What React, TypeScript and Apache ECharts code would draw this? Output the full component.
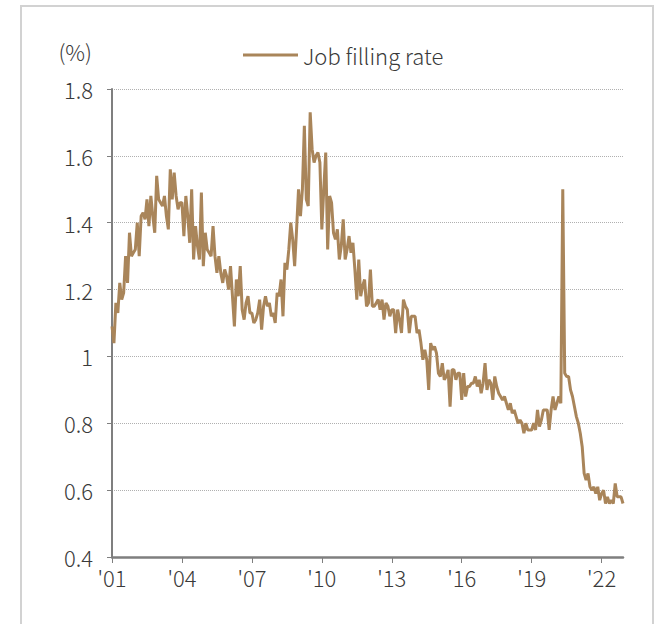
import React, { useEffect, useRef } from "react";
import * as echarts from "echarts";

const startYear = 2001;
const v2001 = [1.09, 1.04, 1.16, 1.13, 1.22, 1.17, 1.19, 1.3, 1.22, 1.37, 1.3, 1.31];
const v2002 = [1.32, 1.4, 1.3, 1.42, 1.43, 1.41, 1.47, 1.39, 1.48, 1.42, 1.37, 1.54];
const v2003 = [1.47, 1.46, 1.45, 1.48, 1.42, 1.38, 1.56, 1.47, 1.55, 1.48, 1.44, 1.46];
const v2004 = [1.46, 1.36, 1.48, 1.42, 1.34, 1.5, 1.29, 1.39, 1.33, 1.29, 1.49, 1.27];
const v2005 = [1.37, 1.32, 1.31, 1.3, 1.39, 1.3, 1.25, 1.3, 1.25, 1.22, 1.26, 1.24];
const v2006 = [1.2, 1.27, 1.18, 1.09, 1.23, 1.18, 1.27, 1.14, 1.11, 1.16, 1.18, 1.13];
const v2007 = [1.13, 1.1, 1.11, 1.13, 1.17, 1.08, 1.15, 1.18, 1.15, 1.16, 1.12, 1.13];
const v2008 = [1.1, 1.19, 1.18, 1.23, 1.12, 1.28, 1.26, 1.32, 1.4, 1.35, 1.27, 1.38];
const v2009 = [1.5, 1.42, 1.5, 1.69, 1.47, 1.45, 1.73, 1.62, 1.58, 1.6, 1.61, 1.58];
const v2010 = [1.38, 1.5, 1.61, 1.32, 1.48, 1.46, 1.37, 1.35, 1.38, 1.29, 1.33, 1.41];
const v2011 = [1.29, 1.32, 1.36, 1.31, 1.34, 1.26, 1.17, 1.29, 1.18, 1.21, 1.23, 1.15];
const v2012 = [1.16, 1.26, 1.15, 1.15, 1.16, 1.17, 1.14, 1.17, 1.11, 1.16, 1.15, 1.12];
const v2013 = [1.14, 1.14, 1.07, 1.14, 1.11, 1.07, 1.17, 1.15, 1.14, 1.07, 1.12, 1.12];
const v2014 = [1.12, 1.07, 1.08, 1.04, 0.99, 1.02, 0.99, 0.9, 1.04, 1.02, 1.03, 1.01];
const v2015 = [0.95, 0.94, 0.98, 0.93, 0.94, 0.96, 0.85, 0.96, 0.96, 0.93, 0.95, 0.95];
const v2016 = [0.87, 0.95, 0.88, 0.91, 0.91, 0.92, 0.92, 0.94, 0.91, 0.93, 0.89, 0.92];
const v2017 = [0.98, 0.9, 0.93, 0.92, 0.87, 0.94, 0.91, 0.89, 0.88, 0.87, 0.88, 0.86];
const v2018 = [0.84, 0.86, 0.83, 0.84, 0.82, 0.8, 0.81, 0.8, 0.77, 0.8, 0.78, 0.78];
const v2019 = [0.78, 0.8, 0.78, 0.84, 0.79, 0.81, 0.84, 0.84, 0.84, 0.78, 0.84, 0.88];
const v2020 = [0.84, 0.86, 0.88, 0.86, 1.5, 0.95, 0.94, 0.94, 0.9, 0.88, 0.85, 0.82];
const v2021 = [0.8, 0.77, 0.73, 0.65, 0.63, 0.65, 0.61, 0.6, 0.61, 0.59, 0.61, 0.57];
const v2022 = [0.59, 0.6, 0.56, 0.58, 0.56, 0.57, 0.56, 0.62, 0.58, 0.58, 0.58, 0.56];

const yearly = [
  v2001, v2002, v2003, v2004, v2005, v2006, v2007, v2008, v2009, v2010, v2011,
  v2012, v2013, v2014, v2015, v2016, v2017, v2018, v2019, v2020, v2021, v2022,
];
const tickYears = ["'01", "'04", "'07", "'10", "'13", "'16", "'19", "'22"];
const seriesName = "Job filling rate";
const unitLabel = "(%)";

const FONT = "'Noto Sans CJK KR', 'Noto Sans', sans-serif";
const TEXT = "#3a3a3a";
const LINE = "#a9855a";

export default function App() {
  const ref = useRef<HTMLDivElement>(null);
  useEffect(() => {
    if (!ref.current) return;
    const chart = echarts.init(ref.current, null, { renderer: "svg" });
    const categories: string[] = [];
    const values: number[] = [];
    yearly.forEach((arr, yi) => {
      arr.forEach((v, mi) => {
        categories.push(`${startYear + yi}-${String(mi + 1).padStart(2, "0")}`);
        values.push(v);
      });
    });
    const showIdx = (idx: number) => idx % 36 === 0;
    chart.setOption({
      animation: false,
      graphic: [
        {
          type: "rect",
          shape: { x: 21, y: 6, width: 632, height: 640 },
          style: { fill: "none", stroke: "#d2d2d2", lineWidth: 2 },
          silent: true,
        },
        {
          type: "text",
          x: 92,
          y: 51,
          style: {
            text: unitLabel,
            font: `300 22px ${FONT}`,
            fill: TEXT,
            align: "right",
            verticalAlign: "middle",
          },
        },
      ],
      legend: {
        left: 238,
        top: 39,
        icon: "rect",
        itemWidth: 55,
        itemHeight: 3,
        textStyle: { fontFamily: FONT, fontSize: 22, fontWeight: 300, color: TEXT },
        data: [seriesName],
      },
      grid: { left: 112, right: 34, top: 89, bottom: 67 },
      xAxis: {
        type: "category",
        data: categories,
        boundaryGap: false,
        axisLine: { lineStyle: { color: "#7f7f7f", width: 2.5 } },
        axisTick: { show: true, interval: showIdx, length: 6, lineStyle: { color: "#7f7f7f", width: 1 } },
        axisLabel: {
          interval: showIdx,
          formatter: (_v: string, idx: number) => tickYears[Math.round(idx / 36)] ?? "",
          fontFamily: FONT,
          fontSize: 22,
          fontWeight: 300,
          color: TEXT,
          margin: 9,
        },
        splitLine: { show: false },
      },
      yAxis: {
        type: "value",
        min: 0.4,
        max: 1.8,
        interval: 0.2,
        axisLine: { show: true, lineStyle: { color: "#7f7f7f", width: 2 } },
        axisTick: { show: true, length: 5, lineStyle: { color: "#7f7f7f", width: 1 } },
        axisLabel: {
          formatter: (v: number) => String(Number(v.toFixed(1))),
          fontFamily: FONT,
          fontSize: 22,
          fontWeight: 300,
          color: TEXT,
          margin: 19,
        },
        splitLine: { show: true, lineStyle: { color: "#b0b0b0", type: "dotted", width: 1 } },
      },
      series: [
        {
          name: seriesName,
          type: "line",
          data: values,
          symbol: "none",
          lineStyle: { color: LINE, width: 3 },
          itemStyle: { color: LINE },
        },
      ],
    });
    return () => chart.dispose();
  }, []);
  return (
    <div
      ref={ref}
      style={{ position: "fixed", left: 0, top: 0, width: 657, height: 624, background: "#fff" }}
    />
  );
}
